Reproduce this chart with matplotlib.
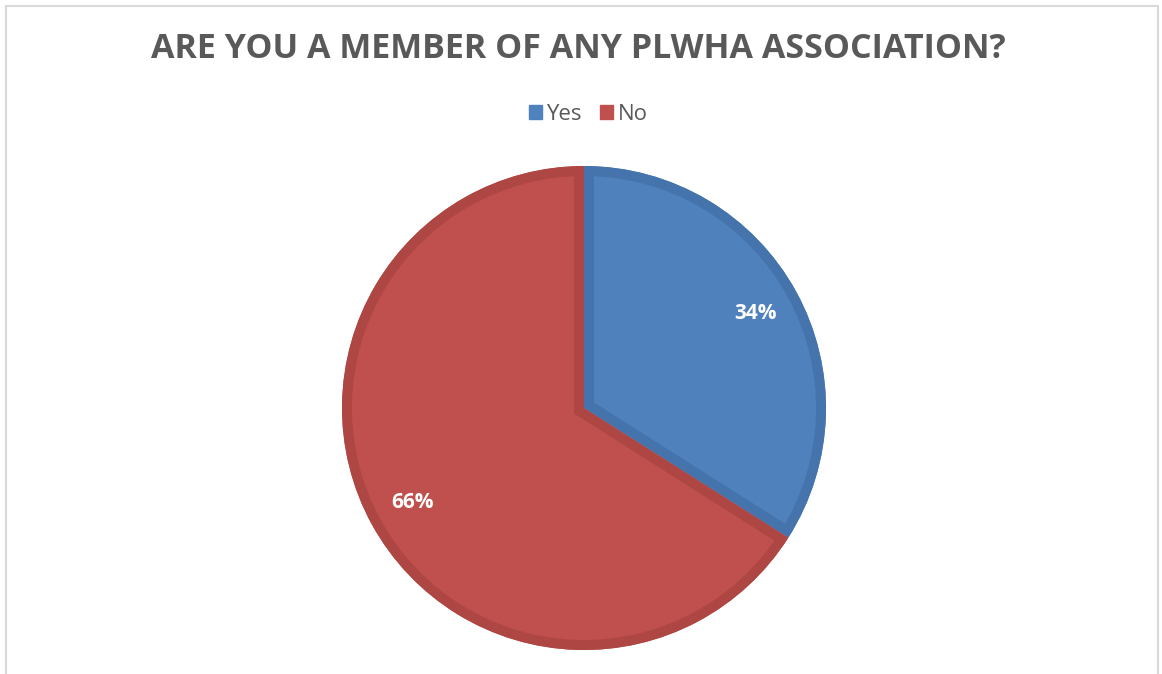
import numpy as np
import matplotlib
matplotlib.use("Agg")
from matplotlib import pyplot as plt
from matplotlib.patches import Wedge, Rectangle

# survey answers
labels = ["Yes", "No"]
shares = [34, 66]
fill_colors = ["#4F81BD", "#C0504D"]
edge_colors = ["#4574AD", "#AE4744"]
title = "ARE YOU A MEMBER OF ANY PLWHA ASSOCIATION?"

W, H, DPI = 1162, 674, 100
fig = plt.figure(figsize=(W / DPI, H / DPI), dpi=DPI)
plt.rcParams["font.family"] = ["Open Sans", "DejaVu Sans"]

# chart frame
fig.patches.append(Rectangle((6 / W, -0.05), 1152 / W, (674 - 6) / H + 0.05,
                             transform=fig.transFigure, fill=False,
                             edgecolor="#D9D9D9", linewidth=1.5))

cx, cy, r = 584, 408, 242
ax = fig.add_axes([(cx - r) / W, (H - cy - r) / H, 2 * r / W, 2 * r / H])
wedges, texts, autotexts = ax.pie(
    shares, colors=fill_colors, startangle=90, counterclock=False,
    radius=1, autopct="%d%%", pctdistance=0.81,
    textprops=dict(color="white", fontsize=15, fontweight="bold"),
    wedgeprops=dict(linewidth=0))
for t in texts:
    t.set_visible(False)

# darker inner band along each slice border
for w, ec in zip(wedges, edge_colors):
    band = Wedge(w.center, w.r, w.theta1, w.theta2, facecolor="none",
                 edgecolor=ec, linewidth=14.4, joinstyle="miter")
    ax.add_patch(band)
    band.set_clip_path(w)
ax.set_xlim(-1, 1)
ax.set_ylim(-1, 1)
ax.set_aspect("equal")
ax.axis("off")

fig.text(578 / W, 1 - 49 / H, title, ha="center", va="center",
         fontsize=24.5, fontweight="bold", color="#595959")

handles = [Rectangle((0, 0), 1, 1, color=c) for c in fill_colors]
fig.legend(handles, labels, loc="center", bbox_to_anchor=(588 / W, 1 - 114 / H),
           ncol=2, frameon=False, fontsize=16, labelcolor="#595959",
           handlelength=0.6, handleheight=0.6, handletextpad=0.2,
           columnspacing=0.8)

fig.savefig("out.png", dpi=DPI, facecolor="white")
